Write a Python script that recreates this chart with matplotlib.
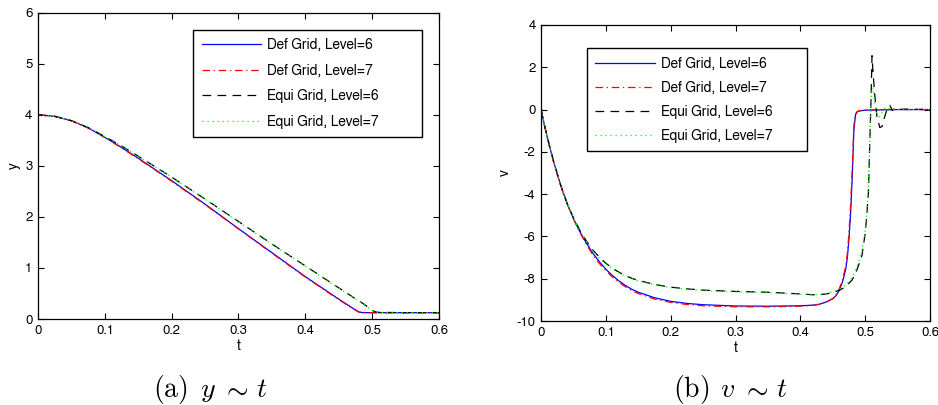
import matplotlib
matplotlib.use("Agg")
import matplotlib.pyplot as plt
from matplotlib.ticker import FormatStrFormatter, MultipleLocator

plt.rcParams['font.family'] = ['FreeSans', 'Liberation Sans', 'DejaVu Sans']
plt.rcParams['mathtext.fontset'] = 'cm'

# ---- position y(t) ----
t_y = [0, 0.025, 0.05, 0.075, 0.1, 0.125, 0.15, 0.175, 0.2, 0.25, 0.3, 0.35,
       0.4, 0.45, 0.47, 0.48, 0.485, 0.49, 0.5, 0.505, 0.51, 0.55, 0.6]
y_def6 = [4.0, 3.97, 3.885, 3.745, 3.56, 3.36, 3.15, 2.93, 2.71, 2.25, 1.77, 1.30,
          0.83, 0.39, 0.22, 0.14, 0.127, 0.125, 0.125, 0.125, 0.125, 0.125, 0.125]
y_def7 = [4.0, 3.97, 3.883, 3.742, 3.555, 3.353, 3.14, 2.92, 2.70, 2.24, 1.765, 1.29,
          0.82, 0.38, 0.21, 0.135, 0.125, 0.122, 0.122, 0.122, 0.122, 0.122, 0.122]
y_equi6 = [4.0, 3.97, 3.885, 3.75, 3.575, 3.39, 3.19, 2.985, 2.78, 2.35, 1.91, 1.47,
           1.04, 0.61, 0.44, 0.355, 0.315, 0.27, 0.17, 0.14, 0.13, 0.125, 0.125]
y_equi7 = [4.0, 3.97, 3.885, 3.75, 3.574, 3.388, 3.188, 2.982, 2.776, 2.345, 1.905, 1.465,
           1.035, 0.605, 0.435, 0.35, 0.31, 0.265, 0.165, 0.138, 0.128, 0.124, 0.124]

# ---- velocity v(t) ----
t_def_v = [0, 0.005, 0.01, 0.015, 0.02, 0.03, 0.04, 0.05, 0.06, 0.07, 0.08, 0.09,
           0.10, 0.11, 0.12, 0.13, 0.14, 0.15, 0.175, 0.20, 0.225, 0.25, 0.30, 0.35,
           0.40, 0.42, 0.43, 0.44, 0.45, 0.455, 0.46, 0.465, 0.47, 0.4725, 0.475,
           0.4775, 0.48, 0.4825, 0.485, 0.4875, 0.49, 0.50, 0.55, 0.60]
v_def6 = [0, -0.70, -1.35, -1.95, -2.52, -3.55, -4.42, -5.15, -5.78, -6.32, -6.80, -7.20,
          -7.55, -7.85, -8.10, -8.32, -8.50, -8.64, -8.90, -9.07, -9.17, -9.23, -9.29, -9.30,
          -9.28, -9.25, -9.20, -9.10, -8.95, -8.80, -8.55, -8.15, -7.55, -7.00, -6.10,
          -4.90, -3.20, -1.00, -0.25, -0.12, -0.07, -0.03, 0.0, 0.0]
v_def7 = [0, -0.72, -1.38, -1.98, -2.55, -3.58, -4.45, -5.18, -5.82, -6.38, -6.88, -7.28,
          -7.62, -7.92, -8.17, -8.38, -8.56, -8.70, -8.96, -9.12, -9.22, -9.28, -9.33, -9.33,
          -9.30, -9.26, -9.21, -9.10, -8.93, -8.76, -8.48, -8.05, -7.40, -6.80, -5.80,
          -4.50, -2.80, -0.80, -0.20, -0.10, -0.06, -0.02, 0.0, 0.0]

t_equi_v = [0, 0.005, 0.01, 0.015, 0.02, 0.03, 0.04, 0.05, 0.06, 0.07, 0.08, 0.09,
            0.10, 0.11, 0.12, 0.13, 0.14, 0.15, 0.175, 0.20, 0.225, 0.25, 0.30, 0.35,
            0.40, 0.42, 0.43, 0.44, 0.45, 0.46, 0.47, 0.48, 0.485, 0.49, 0.495, 0.50,
            0.5025, 0.505, 0.5075, 0.509, 0.5105, 0.512, 0.515, 0.518, 0.5225, 0.526,
            0.53, 0.534, 0.538, 0.542, 0.546, 0.55, 0.56, 0.60]
v_equi6 = [0, -0.70, -1.35, -1.95, -2.52, -3.55, -4.42, -5.12, -5.72, -6.22, -6.65, -6.98,
           -7.27, -7.50, -7.69, -7.85, -7.98, -8.08, -8.27, -8.40, -8.48, -8.54, -8.60, -8.64,
           -8.72, -8.76, -8.75, -8.72, -8.65, -8.55, -8.38, -8.05, -7.75, -7.35, -6.90, -5.85,
           -5.00, -3.90, -1.10, 0.50, 2.55, 1.80, 0.60, -0.30, -0.85, -0.80,
           -0.35, 0.05, 0.20, -0.05, 0.08, 0.0, 0.02, 0.0]
v_equi7 = [0, -0.70, -1.35, -1.95, -2.52, -3.55, -4.42, -5.13, -5.73, -6.24, -6.68, -7.02,
           -7.30, -7.53, -7.72, -7.87, -8.00, -8.10, -8.29, -8.42, -8.50, -8.56, -8.62, -8.66,
           -8.73, -8.76, -8.74, -8.70, -8.62, -8.50, -8.30, -7.95, -7.62, -7.20, -6.70, -5.70,
           -4.80, -3.60, -0.90, 0.40, 0.95, 1.05, 0.30, -0.20, -0.35, -0.15,
           0.05, 0.10, 0.02, -0.02, 0.02, 0.0, 0.0, 0.0]

labels = ['Def Grid, Level=6', 'Def Grid, Level=7',
          'Equi Grid, Level=6', 'Equi Grid, Level=7']
caption_parts = [[r'$\mathrm{(a)}$', r'$y$', r'$\sim$', r'$t$'],
                 [r'$\mathrm{(b)}$', r'$v$', r'$\sim$', r'$t$']]

LW = 0.9
styles = [dict(color='#0000ff', linestyle='-'),
          dict(color='#ff0000', dashes=(6, 3, 1, 3)),
          dict(color='#000000', dashes=(7, 5)),
          dict(color='#00ff00', dashes=(1, 3))]

W, H = 938, 405
fig = plt.figure(figsize=(W / 100, H / 100), dpi=100)
ax1 = fig.add_axes([0.0405, 0.2123, 0.4275, 0.7563])
ax2 = fig.add_axes([0.5768, 0.2074, 0.4147, 0.7309])

for ys, st, lab in zip([y_def6, y_def7, y_equi6, y_equi7], styles, labels):
    ax1.plot(t_y, ys, lw=LW, label=lab, **st)

v_sets = [(t_def_v, v_def6), (t_def_v, v_def7), (t_equi_v, v_equi6), (t_equi_v, v_equi7)]
for (ts, vs), st, lab in zip(v_sets, styles, labels):
    ax2.plot(ts, vs, lw=LW, label=lab, **st)


def style_axes(ax, ylim, ystep, ylabel):
    ax.set_xlim(0, 0.6)
    ax.set_ylim(*ylim)
    ax.xaxis.set_major_locator(MultipleLocator(0.1))
    ax.yaxis.set_major_locator(MultipleLocator(ystep))
    ax.xaxis.set_major_formatter(FormatStrFormatter('%g'))
    ax.yaxis.set_major_formatter(FormatStrFormatter('%g'))
    ax.tick_params(direction='in', top=True, right=True, length=4, width=0.8,
                   labelsize=9.5, pad=4)
    for s in ax.spines.values():
        s.set_linewidth(0.9)
    ax.set_xlabel('t', fontsize=10, labelpad=2)
    ax.set_ylabel(ylabel, fontsize=10, labelpad=3)


style_axes(ax1, (0, 6), 1, 'y')
style_axes(ax2, (-10, 4), 2, 'v')

leg_kw = dict(mode='expand', loc='upper left', fontsize=10, handlelength=4.3,
              handletextpad=0.4, borderaxespad=0,
              fancybox=False, framealpha=1, edgecolor='black')
leg1 = ax1.legend(bbox_to_anchor=(0.387, 0.944 - 0.35, 0.571, 0.35),
                  labelspacing=0.82, borderpad=0.61, **leg_kw)
leg2 = ax2.legend(bbox_to_anchor=(0.118, 0.922 - 0.348, 0.566, 0.348),
                  labelspacing=0.73, borderpad=0.6, **leg_kw)
for lg in (leg1, leg2):
    lg.get_frame().set_linewidth(1.0)

# sub-figure captions, each piece centred on its own horizontal slot
caption_x = [[170, 207.5, 235.5, 261.5], [691, 727.5, 755.5, 781.7]]
baseline = 1 - 397 / H
for parts, xs in zip(caption_parts, caption_x):
    for piece, xp in zip(parts, xs):
        fig.text(xp / W, baseline, piece, ha='center', va='baseline', fontsize=20)

fig.savefig('out.png', dpi=100)
